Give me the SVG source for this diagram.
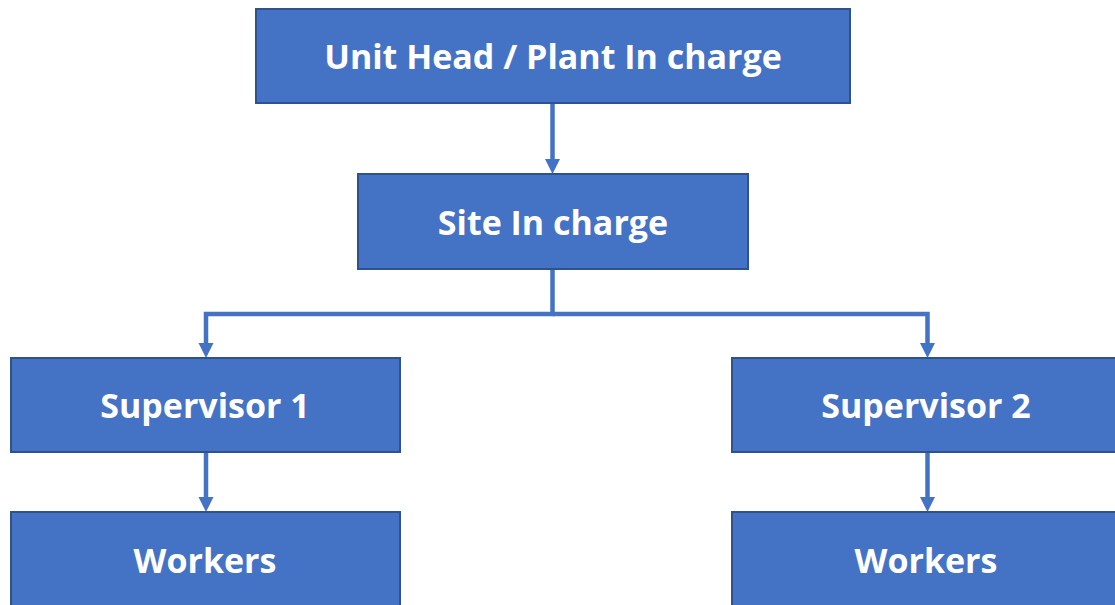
<svg xmlns="http://www.w3.org/2000/svg" width="1115" height="605" viewBox="0 0 1115 605">
<defs>
<style>
.box{fill:#4472C4;stroke:#2F528F;stroke-width:2}
.lbl{fill:#FFFFFF;font-family:"Open Sans","Liberation Sans",sans-serif;font-weight:700;font-size:34px;text-anchor:middle}
.conn{fill:none;stroke:#4472C4;stroke-width:4.5}
</style>
<marker id="arr" markerUnits="userSpaceOnUse" markerWidth="16" markerHeight="16" refX="5" refY="7.5" orient="auto">
<path d="M0,0 L15,7.5 L0,15 z" fill="#4472C4"/>
</marker>
</defs>
<rect width="1115" height="605" fill="#FFFFFF"/>
<g id="connectors">
<path class="conn" d="M552.5,104 V164" marker-end="url(#arr)"/>
<path class="conn" d="M552.5,270 V314 H206 V348" marker-end="url(#arr)"/>
<path class="conn" d="M552.5,314 H927.5 V348" marker-end="url(#arr)"/>
<path class="conn" d="M206,453 V502" marker-end="url(#arr)"/>
<path class="conn" d="M927.5,453 V502" marker-end="url(#arr)"/>
</g>
<g id="unit-head">
<rect class="box" x="256" y="9" width="594" height="94"/>
<text class="lbl" x="553" y="69">Unit Head / Plant In charge</text>
</g>
<g id="site-in-charge">
<rect class="box" x="358" y="174" width="390" height="95"/>
<text class="lbl" x="553" y="235">Site In charge</text>
</g>
<g id="supervisor-1">
<rect class="box" x="11" y="358" width="389" height="94"/>
<text class="lbl" x="205" y="418">Supervisor 1</text>
</g>
<g id="supervisor-2">
<rect class="box" x="732" y="358" width="389" height="94"/>
<text class="lbl" x="926" y="418">Supervisor 2</text>
</g>
<g id="workers-1">
<rect class="box" x="11" y="512" width="389" height="100"/>
<text class="lbl" x="205" y="573">Workers</text>
</g>
<g id="workers-2">
<rect class="box" x="732" y="512" width="389" height="100"/>
<text class="lbl" x="926" y="573">Workers</text>
</g>
</svg>
